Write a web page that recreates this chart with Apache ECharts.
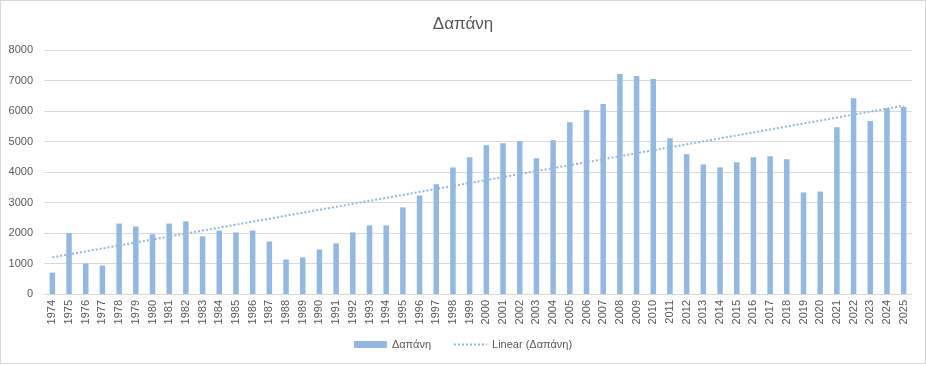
<!DOCTYPE html>
<html>
<head>
<meta charset="utf-8">
<script src="https://cdn.jsdelivr.net/npm/echarts@6/dist/echarts.min.js"></script>
<style>
html,body{margin:0;padding:0;background:#fff;}
#wrap{position:absolute;left:0;top:0;width:924px;height:362px;border:1px solid #d9d9d9;}
#chart{width:924px;height:362px;}
</style>
</head>
<body>
<div id="wrap"><div id="chart"></div></div>
<script>
const years = ['1974','1975','1976','1977','1978','1979','1980','1981','1982','1983','1984','1985','1986','1987','1988','1989','1990','1991','1992','1993','1994','1995','1996','1997','1998','1999','2000','2001','2002','2003','2004','2005','2006','2007','2008','2009','2010','2011','2012','2013','2014','2015','2016','2017','2018','2019','2020','2021','2022','2023','2024','2025'];
const spending = [700,2000,1000,930,2310,2210,1960,2310,2380,1890,2080,2020,2080,1720,1130,1200,1460,1660,2020,2250,2250,2840,3230,3600,4150,4480,4880,4940,5010,4450,5040,5630,6030,6230,7210,7150,7050,5110,4580,4250,4150,4320,4480,4520,4420,3330,3360,5470,6420,5670,6090,6130];
const yTicks = [0,1000,2000,3000,4000,5000,6000,7000,8000];
const seriesName = 'Δαπάνη';
const trendName = 'Linear (Δαπάνη)';

// Linear trendline (least squares), as the spreadsheet computes it
const n = spending.length;
let sx=0, sy=0, sxx=0, sxy=0;
spending.forEach((v,i)=>{const x=i+1; sx+=x; sy+=v; sxx+=x*x; sxy+=x*v;});
const slope = (n*sxy - sx*sy)/(n*sxx - sx*sx);
const intercept = (sy - slope*sx)/n;
const trend = spending.map((v,i)=>+(intercept + slope*(i+1)).toFixed(1));

const chart = echarts.init(document.getElementById('chart'), null, {renderer:'canvas'});
const font = 'Liberation Sans, Arial, sans-serif';
chart.setOption({
  animation:false,
  textStyle:{fontFamily:font},
  title:{text:'Δαπάνη', left:'center', top:10, textStyle:{fontSize:17, fontWeight:'normal', color:'#595959', fontFamily:font}},
  grid:{left:43, right:13, top:49, bottom:69, containLabel:false},
  legend:{
    bottom:8, left:'center', itemGap:22, itemWidth:33, itemHeight:7,
    textStyle:{color:'#595959', fontSize:11, fontFamily:font},
    data:[{name:seriesName, icon:'rect'},{name:trendName, itemStyle:{opacity:0}}]
  },
  xAxis:{
    type:'category', data:years,
    axisLine:{lineStyle:{color:'#d9d9d9'}},
    axisTick:{show:false},
    axisLabel:{rotate:90, interval:0, color:'#595959', fontSize:11, margin:6, fontFamily:font}
  },
  yAxis:{
    type:'value', min:yTicks[0], max:yTicks[yTicks.length-1], interval:1000,
    axisLine:{show:false}, axisTick:{show:false},
    splitLine:{lineStyle:{color:'#d9d9d9'}},
    axisLabel:{color:'#595959', fontSize:11, margin:11, fontFamily:font, formatter:(v)=>String(v)}
  },
  series:[
    {name:seriesName, type:'bar', data:spending, barWidth:'33%', itemStyle:{color:'#95b8e0'}},
    {name:trendName, type:'line', data:trend, symbol:'none', lineStyle:{color:'#95b8e0', width:2, type:[2,2]}, itemStyle:{color:'#95b8e0'}}
  ]
});
</script>
</body>
</html>
